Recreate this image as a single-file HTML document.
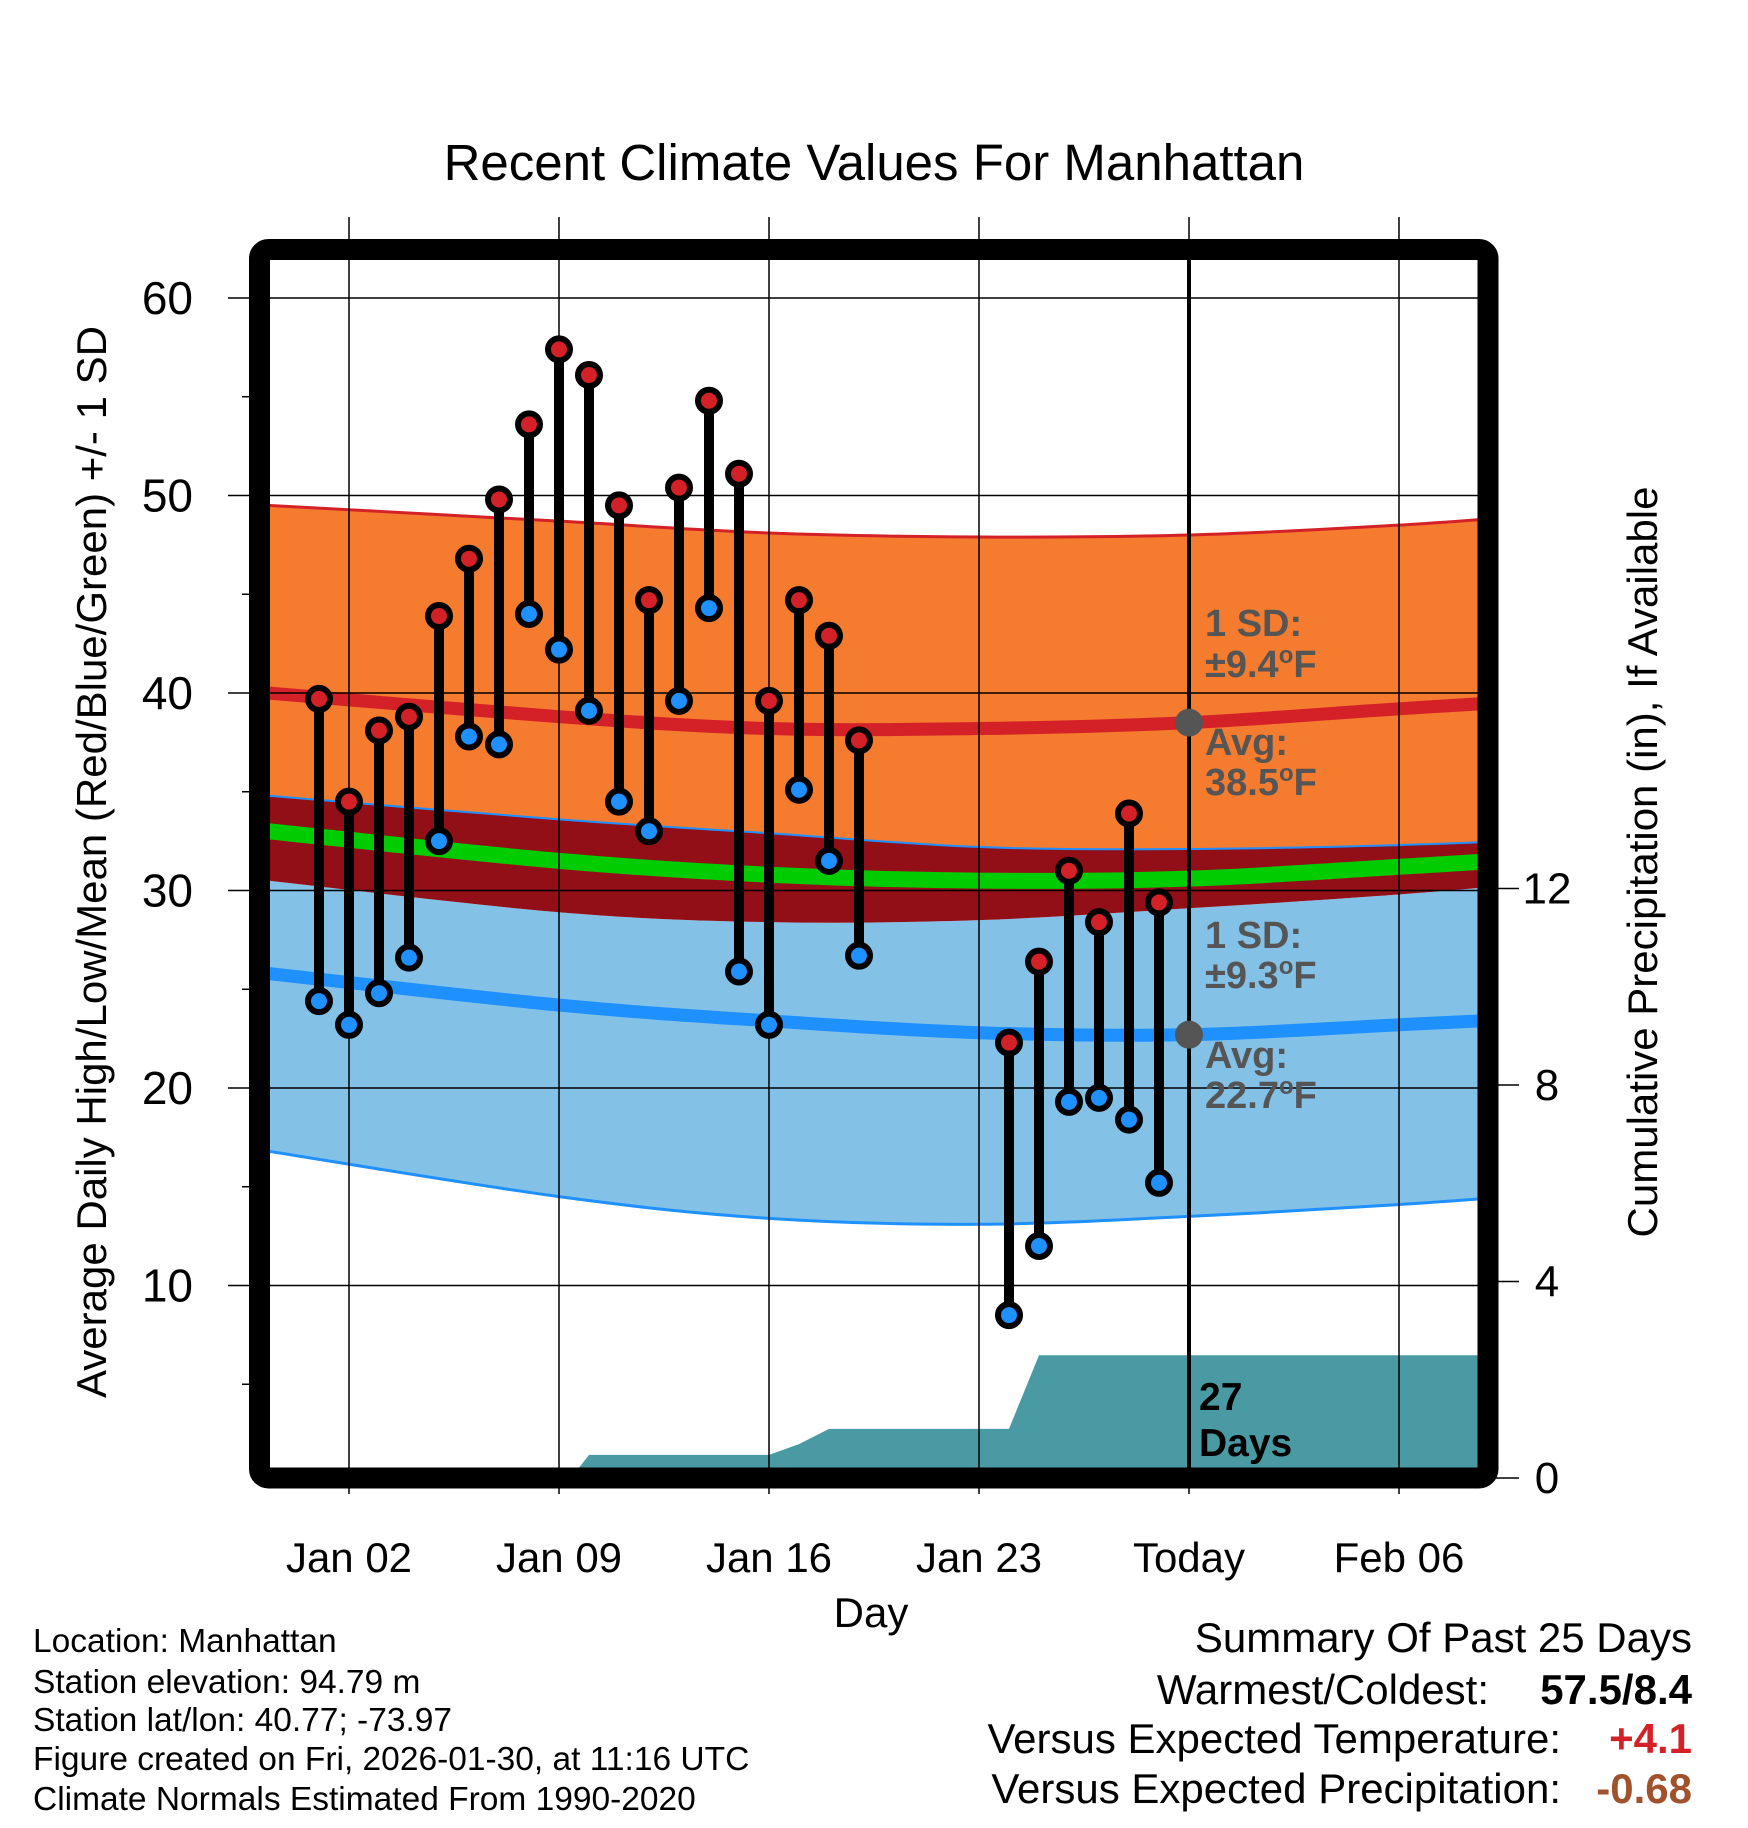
<!DOCTYPE html>
<html><head><meta charset="utf-8"><style>
html,body{margin:0;padding:0;background:#fff}
svg{display:block;font-family:"Liberation Sans",sans-serif}
</style></head><body>
<svg id="chart" width="1748" height="1828" viewBox="0 0 1748 1828" xmlns="http://www.w3.org/2000/svg">
<defs><clipPath id="pc"><rect x="270" y="260" width="1208" height="1208"/></clipPath></defs>
<text x="874" y="180" font-size="51" text-anchor="middle">Recent Climate Values For Manhattan</text>
<g id="bands" clip-path="url(#pc)"></g>
<g id="grid"></g>
<g id="marks" clip-path="url(#pc)"></g>
<rect x="259.5" y="249.5" width="1228.5" height="1228.5" rx="9" fill="none" stroke="#000" stroke-width="21"/>
<g id="labels"></g>
<g font-weight="bold" fill="#555" font-size="38">
<text x="1205" y="636">1 SD:</text><text x="1205" y="677">±9.4<tspan font-size="24" dy="-14">o</tspan><tspan dy="14">F</tspan></text>
<text x="1205" y="755">Avg:</text><text x="1205" y="795">38.5<tspan font-size="24" dy="-14">o</tspan><tspan dy="14">F</tspan></text>
<text x="1205" y="948">1 SD:</text><text x="1205" y="988">±9.3<tspan font-size="24" dy="-14">o</tspan><tspan dy="14">F</tspan></text>
<text x="1205" y="1068">Avg:</text><text x="1205" y="1108">22.7<tspan font-size="24" dy="-14">o</tspan><tspan dy="14">F</tspan></text>
</g>
<g font-weight="bold" fill="#000" font-size="39">
<text x="1199" y="1410">27</text><text x="1199" y="1456">Days</text>
</g>
<text x="871" y="1627" font-size="42" text-anchor="middle">Day</text>
<text transform="translate(106,862) rotate(-90)" font-size="42" text-anchor="middle">Average Daily High/Low/Mean (Red/Blue/Green) +/- 1 SD</text>
<text transform="translate(1657,862) rotate(-90)" font-size="42" text-anchor="middle">Cumulative Precipitation (in), If Available</text>
<g font-size="33.5">
<text x="33" y="1652">Location: Manhattan</text>
<text x="33" y="1693">Station elevation: 94.79 m</text>
<text x="33" y="1731">Station lat/lon: 40.77; -73.97</text>
<text x="33" y="1770">Figure created on Fri, 2026-01-30, at 11:16 UTC</text>
<text x="33" y="1810">Climate Normals Estimated From 1990-2020</text>
</g>
<g font-size="42">
<text x="1692" y="1652" text-anchor="end">Summary Of Past 25 Days</text>
<text x="1489" y="1704" text-anchor="end">Warmest/Coldest:</text>
<text x="1692" y="1704" text-anchor="end" font-weight="bold">57.5/8.4</text>
<text x="1561" y="1753" text-anchor="end">Versus Expected Temperature:</text>
<text x="1692" y="1753" text-anchor="end" font-weight="bold" fill="#d42027">+4.1</text>
<text x="1561" y="1803" text-anchor="end">Versus Expected Precipitation:</text>
<text x="1692" y="1803" text-anchor="end" font-weight="bold" fill="#a0522d">-0.68</text>
</g>
</svg>
<script>
const obsDays=[1,2,3,4,5,6,7,8,9,10,11,12,13,14,15,16,17,18,19,24,25,26,27,28,29];
const highs=[39.7,34.5,38.1,38.8,43.9,46.8,49.8,53.6,57.4,56.1,49.5,44.7,50.4,54.8,51.1,39.6,44.7,42.9,37.6,22.3,26.4,31.0,28.4,33.9,29.4];
const lows=[24.4,23.2,24.8,26.6,32.5,37.8,37.4,44.0,42.2,39.1,34.5,33.0,39.6,44.3,25.9,23.2,35.1,31.5,26.7,8.5,12.0,19.3,19.5,18.4,15.2];
const normDays=[-0.7,9,16,23,30,37,42.4];
const highAvg=[40.0,38.8,38.2,38.2,38.5,39.2,39.7];
const highUp=[49.5,48.7,48.1,47.9,48.0,48.5,49.1];
const highDn=[34.8,33.6,32.9,32.2,32.1,32.3,32.6];
const lowAvg=[25.8,24.2,23.4,22.8,22.7,23.2,23.6];
const lowUp=[30.5,28.9,28.4,28.5,29.1,29.8,30.5];
const lowDn=[16.8,14.5,13.4,13.1,13.5,14.1,14.7];
const meanT=[33.0,31.5,30.8,30.5,30.6,31.2,31.7];
const precipDays=[-0.7,9.4,10,16,17,18,24,25,42.4];
const precipVals=[0,0,0.47,0.47,0.69,1.0,1.0,2.5,2.5];
const todayDay=30;
const todayHighAvg=38.5, todayLowAvg=22.7;
const xTickDays=[2,9,16,23,30,37];
const xTickLabels=['Jan 02','Jan 09','Jan 16','Jan 23','Today','Feb 06'];
const yTicks=[10,20,30,40,50,60];
const yMinor=[5,15,25,35,45,55];
const y2Ticks=[0,4,8,12];

const NS='http://www.w3.org/2000/svg';
const X=d=>349+(d-2)*30;
const Y=t=>1483-t*19.75;
const Y2=p=>1478-p*49.125;
function mk(tag,attrs,parent){const e=document.createElementNS(NS,tag);for(const k in attrs)e.setAttribute(k,attrs[k]);parent.appendChild(e);return e;}
function smooth(xs,ys){
  let pts=xs.map((x,i)=>[X(x),Y(ys[i])]);
  let d='M'+pts[0][0]+','+pts[0][1];
  for(let i=0;i<pts.length-1;i++){
    const p0=pts[Math.max(0,i-1)],p1=pts[i],p2=pts[i+1],p3=pts[Math.min(pts.length-1,i+2)];
    const c1=[p1[0]+(p2[0]-p0[0])/6,p1[1]+(p2[1]-p0[1])/6];
    const c2=[p2[0]-(p3[0]-p1[0])/6,p2[1]-(p3[1]-p1[1])/6];
    d+=' C'+c1+' '+c2+' '+p2;
  }
  return d;
}
function bandPath(up,dn){
  const a=smooth(normDays,up);
  const rx=normDays.slice().reverse(), rd=dn.slice().reverse();
  const b=smooth(rx,rd).replace(/^M/,'L');
  return a+' '+b+' Z';
}
const bands=document.getElementById('bands');
let e;
e=mk('path',{d:bandPath(highUp,highDn),fill:'#f57b2f'},bands);


e=mk('path',{d:bandPath(lowUp,lowDn),fill:'#83c1e7'},bands);


e=mk('path',{d:bandPath(highDn,lowUp),fill:'#930f17'},bands);


e=mk('path',{d:smooth(normDays,highUp),fill:'none',stroke:'#d42027','stroke-width':3},bands);


e=mk('path',{d:smooth(normDays,highDn),fill:'none',stroke:'#1e90ff','stroke-width':2},bands);


e=mk('path',{d:smooth(normDays,lowDn),fill:'none',stroke:'#1e90ff','stroke-width':3},bands);


e=mk('path',{d:smooth(normDays,meanT),fill:'none',stroke:'#00cc00','stroke-width':16},bands);


e=mk('path',{d:smooth(normDays,highAvg),fill:'none',stroke:'#d42027','stroke-width':13},bands);


e=mk('path',{d:smooth(normDays,lowAvg),fill:'none',stroke:'#1e90ff','stroke-width':13},bands);


let pd='M'+X(precipDays[0])+','+Y2(0);
precipDays.forEach((d,i)=>{pd+=' L'+X(d)+','+Y2(precipVals[i]);});
pd+=' L'+X(precipDays[precipDays.length-1])+','+Y2(0)+' Z';
e=mk('path',{d:pd,fill:'#4a9aa3'},bands);



const grid=document.getElementById('grid');
xTickDays.forEach(d=>{
  e=mk('line',{x1:X(d),x2:X(d),y1:217,y2:1494,stroke:'#000','stroke-width':1.5},grid);
  
  
});
yTicks.forEach(t=>{
  e=mk('line',{x1:228,x2:1478,y1:Y(t),y2:Y(t),stroke:'#000','stroke-width':1.5},grid);
  
  
});
yMinor.forEach(t=>{
  e=mk('line',{x1:242,x2:260,y1:Y(t),y2:Y(t),stroke:'#000','stroke-width':1.5},grid);
  
  
});
y2Ticks.forEach(p=>{
  e=mk('line',{x1:1488,x2:1519,y1:Y2(p),y2:Y2(p),stroke:'#000','stroke-width':1.5},grid);
  
  
});

const marks=document.getElementById('marks');
e=mk('line',{x1:X(todayDay),x2:X(todayDay),y1:255,y2:1475,stroke:'#000','stroke-width':4},marks);


obsDays.forEach((d,i)=>{
  e=mk('line',{x1:X(d),x2:X(d),y1:Y(highs[i]),y2:Y(lows[i]),stroke:'#000','stroke-width':10},marks);
  
  
});
obsDays.forEach((d,i)=>{
  e=mk('circle',{cx:X(d),cy:Y(highs[i]),r:11,fill:'#d42027',stroke:'#000','stroke-width':6},marks);
  
  
  e=mk('circle',{cx:X(d),cy:Y(lows[i]),r:11,fill:'#1e90ff',stroke:'#000','stroke-width':6},marks);
  
  
});
e=mk('circle',{cx:X(todayDay),cy:Y(todayHighAvg),r:14,fill:'#555'},marks);


e=mk('circle',{cx:X(todayDay),cy:Y(todayLowAvg),r:14,fill:'#555'},marks);



const labels=document.getElementById('labels');
xTickDays.forEach((d,i)=>{
  e=mk('text',{x:X(d),y:1572,'font-size':42,'text-anchor':'middle'},labels);
  e.textContent=xTickLabels[i];
  
  
});
yTicks.forEach(t=>{
  e=mk('text',{x:193,y:Y(t)+16,'font-size':46,'text-anchor':'end'},labels);
  e.textContent=t;
  
  
});
y2Ticks.forEach(p=>{
  e=mk('text',{x:1547,y:Y2(p)+15,'font-size':44,'text-anchor':'middle'},labels);
  e.textContent=p;
  
  
});
</script>
</body></html>
